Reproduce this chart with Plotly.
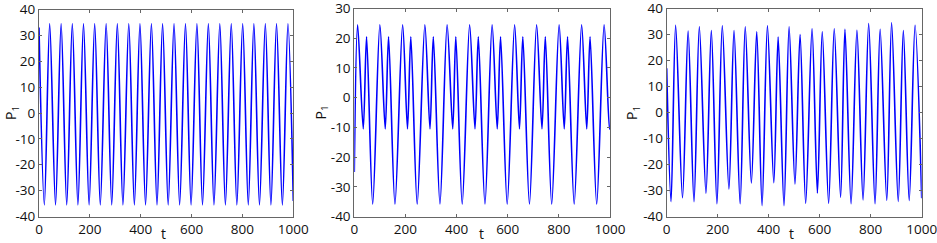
import plotly.graph_objects as go

# ---- data (extremes of each oscillation) ----
t1 = [0, 21, 42, 65, 87, 109, 131, 153, 175, 197, 219, 241, 264, 286, 308, 330,
      353, 375, 397, 419, 442, 464, 486, 508, 531, 553, 576, 598, 621, 643, 666,
      688, 711, 733, 756, 778, 801, 823, 845, 867, 890, 912, 934, 957, 979, 1000]
p1 = [33, -35.5, 34.5, -35.5, 34.5, -35.5, 34.5, -35.5, 34.5, -35.5, 34.5, -35.5,
      34.5, -35.5, 34.5, -35.5, 34.5, -35.5, 34.5, -35.5, 34.5, -35.5, 34.5, -35.5,
      34.5, -35.5, 34.5, -35.5, 34.5, -35.5, 34.5, -35.5, 34.5, -35.5, 34.5, -35.5,
      34.5, -35.5, 34.5, -35.5, 34.5, -35.5, 34.5, -35.5, 34.5, -34]

t2 = [0, 13, 35, 48, 72, 100, 121, 134, 159, 189, 208, 221, 246, 276, 296, 309,
      335, 363, 385, 397, 422, 451, 472, 485, 511, 539, 559, 572, 598, 627, 646,
      659, 685, 713, 734, 747, 772, 801, 821, 834, 860, 889, 909, 922, 948, 977,
      998, 1000]
p2 = [-25, 24.5, -10.5, 20.5, -35.8, 24.5, -10.5, 20.5, -35.8, 24.5, -10.5, 20.5,
      -35.8, 24.5, -10.5, 20.5, -35.8, 24.5, -10.5, 20.5, -35.8, 24.5, -10.5, 20.5,
      -35.8, 24.5, -10.5, 20.5, -35.8, 24.5, -10.5, 20.5, -35.8, 24.5, -10.5, 20.5,
      -35.8, 24.5, -10.5, 20.5, -35.8, 24.5, -10.5, 20.5, -35.8, 24.5, -10.5, -10]

t3 = [0, 17, 35, 62, 84, 107, 128, 154, 175, 197, 218, 244, 264, 288, 308, 332,
      353, 374, 395, 420, 437, 460, 480, 503, 523, 545, 570, 591, 610, 635, 657,
      682, 699, 723, 746, 770, 792, 817, 837, 863, 882, 908, 928, 951, 974, 1000]
p3 = [17, -34.3, 33.5, -32.8, 31.3, -34.3, 33, -31, 31.5, -35.1, 33.3, -29.4,
      31.5, -35.1, 33, -27.1, 31, -35.8, 33.3, -27, 29, -35.8, 33, -27.5, 30,
      -34.9, 32.2, -31, 31, -34.9, 32.2, -32.6, 32, -35.1, 31.6, -33.6, 34.2,
      -35.1, 32, -33.8, 34.5, -34.2, 31.5, -33.8, 33.5, -33]

x_ticks = [0, 200, 400, 600, 800, 1000]
y_ticks = [[-40, -30, -20, -10, 0, 10, 20, 30, 40],
           [-40, -30, -20, -10, 0, 10, 20, 30],
           [-40, -30, -20, -10, 0, 10, 20, 30, 40]]
y_ranges = [[-40, 40], [-40, 30], [-40, 40]]
x_label = "t"
y_label = "P<sub>1</sub>"

W, H = 937, 243
FONT = "Open Sans"
LINE = "#0000ff"

series = [(t1, p1), (t2, p2), (t3, p3)]
# pixel boxes (left, right, top, bottom)
boxes = [(39, 293.3, 9.5, 216.5), (354.3, 610, 8.5, 216.5), (666.7, 921.7, 8.5, 216.5)]
ylab_x = [11, 320.5, 632]
tlab_x = [163, 481, 791]

fig = go.Figure()
layout = dict(width=W, height=H, margin=dict(l=0, r=0, t=0, b=0, autoexpand=False),
              paper_bgcolor="white", plot_bgcolor="white", showlegend=False,
              font=dict(family=FONT, size=13, color="#111"))
annotations = []
for i, ((tt, pp), (l, r, tp, bt), yr) in enumerate(zip(series, boxes, y_ranges)):
    n = "" if i == 0 else str(i + 1)
    fig.add_trace(go.Scatter(x=tt, y=pp, mode="lines",
                             line=dict(color=LINE, width=1.6, shape="spline", smoothing=0.9),
                             xaxis="x" + n, yaxis="y" + n, hoverinfo="skip"))
    axstyle = dict(showline=True, linecolor="#666", linewidth=1, mirror="ticks",
                   ticks="inside", ticklen=3, tickcolor="#666", showgrid=False,
                   zeroline=False, ticklabeloverflow="allow",
                   tickfont=dict(family=FONT, size=13.5, color="#111"))
    layout["xaxis" + n] = dict(domain=[l / W, r / W], range=[0, 1000],
                               tickvals=x_ticks, ticktext=[str(v) for v in x_ticks],
                               anchor="y" + n, **axstyle)
    layout["yaxis" + n] = dict(domain=[1 - bt / H, 1 - tp / H], range=yr,
                               tickvals=y_ticks[i], ticktext=[str(v) for v in y_ticks[i]],
                               ticklabelstandoff=0,
                               anchor="x" + n, **axstyle)
    annotations.append(dict(text=x_label, x=tlab_x[i] / W, y=1 - 233 / H,
                            xref="paper", yref="paper", showarrow=False,
                            xanchor="center", yanchor="middle",
                            font=dict(family=FONT, size=14, color="#111")))
    annotations.append(dict(text=y_label, x=ylab_x[i] / W, y=1 - 113 / H,
                            xref="paper", yref="paper", showarrow=False, textangle=-90,
                            xanchor="center", yanchor="middle",
                            font=dict(family=FONT, size=14, color="#111")))
layout["annotations"] = annotations
fig.update_layout(**layout)
fig.write_html("out.html", config={"displayModeBar": False},
               post_script="document.body.style.margin='0';document.body.style.overflow='hidden';")
